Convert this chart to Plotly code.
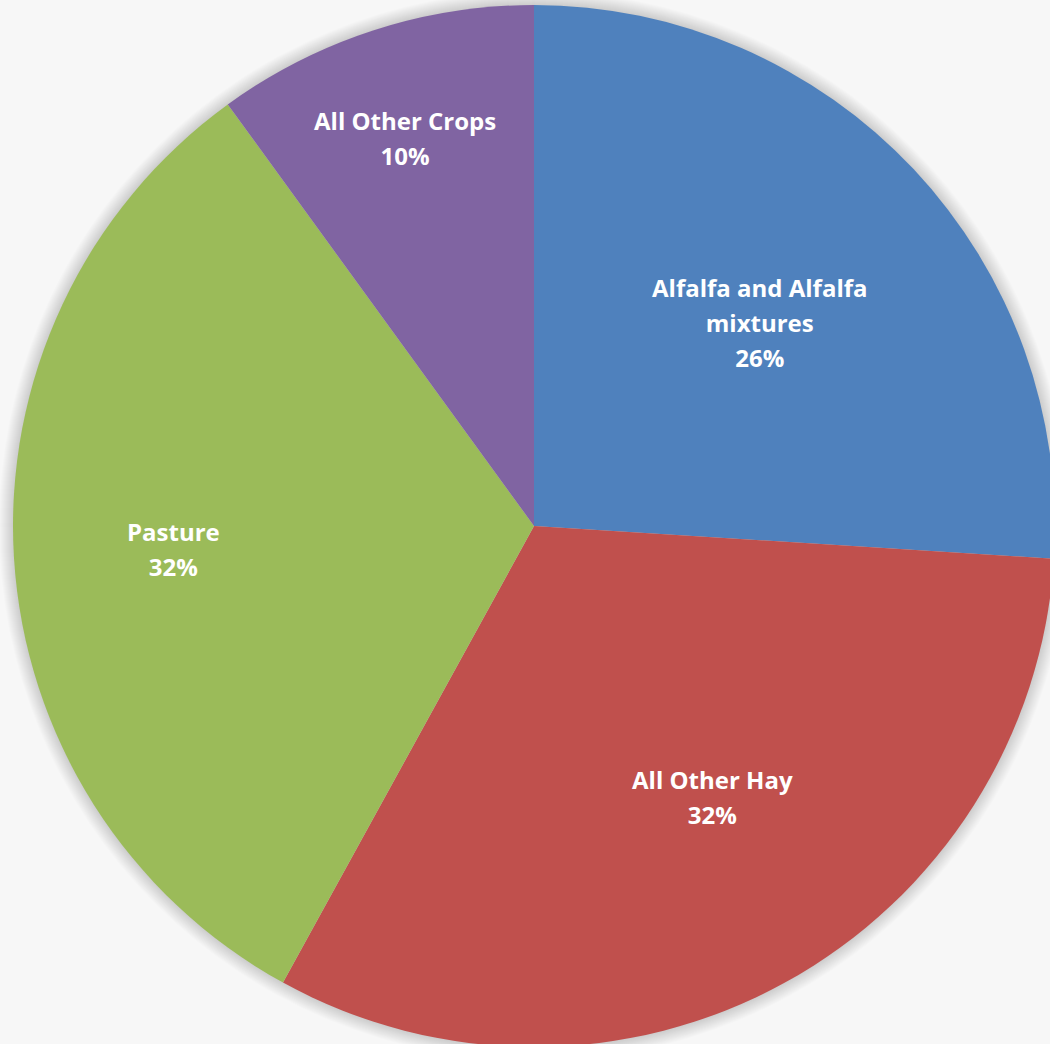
import plotly.graph_objects as go

# Share of acreage by crop category (percent)
categories = ["Alfalfa and Alfalfa<br>mixtures", "All Other Hay", "Pasture", "All Other Crops"]
shares = [26, 32, 32, 10]
colors = ["#4F81BD", "#C0504D", "#9BBB59", "#8064A2"]

# Canvas and pie geometry (pixels)
W, H = 1068, 1052
CX, CY, R = 534, 526, 521
BG = "#f7f7f7"

# Label block centres (pixels), one per slice
label_xy = [(760, 322), (712, 797), (173, 549), (405, 138)]

fig = go.Figure(
    go.Pie(
        labels=categories,
        values=shares,
        marker=dict(colors=colors, line=dict(width=0)),
        sort=False,
        direction="clockwise",
        rotation=0,
        textinfo="none",
        hoverinfo="label+percent",
        showlegend=False,
        domain=dict(x=[(CX - R) / W, (CX + R) / W], y=[(H - CY - R) / H, (H - CY + R) / H]),
    )
)

# Soft drop shadow around the pie
shapes = []
for i in range(1, 15):
    rr = R + i
    shapes.append(
        dict(
            type="circle", xref="paper", yref="paper", layer="below",
            x0=(CX - rr) / W, x1=(CX + rr) / W,
            y0=(H - CY - rr) / H, y1=(H - CY + rr) / H,
            fillcolor="rgba(0,0,0,0.011)", line=dict(width=0),
        )
    )

# Base font sets the line pitch; the inner span sets the glyph size
total = sum(shares)
annotations = []
for name, val, (px, py) in zip(categories, shares, label_xy):
    lines = f"{name}<br>{round(100 * val / total)}%".split("<br>")
    text = "<br>".join(f"<span style='font-size:24px'>{ln}</span>" for ln in lines)
    annotations.append(
        dict(
            x=px / W, y=1 - py / H, xref="paper", yref="paper",
            xanchor="center", yanchor="middle",
            text=text,
            showarrow=False, align="center",
            font=dict(family="Open Sans", size=27, color="white", weight="bold"),
        )
    )

fig.update_layout(
    width=W, height=H,
    margin=dict(l=0, r=0, t=0, b=0),
    paper_bgcolor=BG, plot_bgcolor=BG,
    shapes=shapes, annotations=annotations,
)

fig.write_html(
    "out.html",
    post_script="document.body.style.margin='0';document.body.style.overflow='hidden';",
)
